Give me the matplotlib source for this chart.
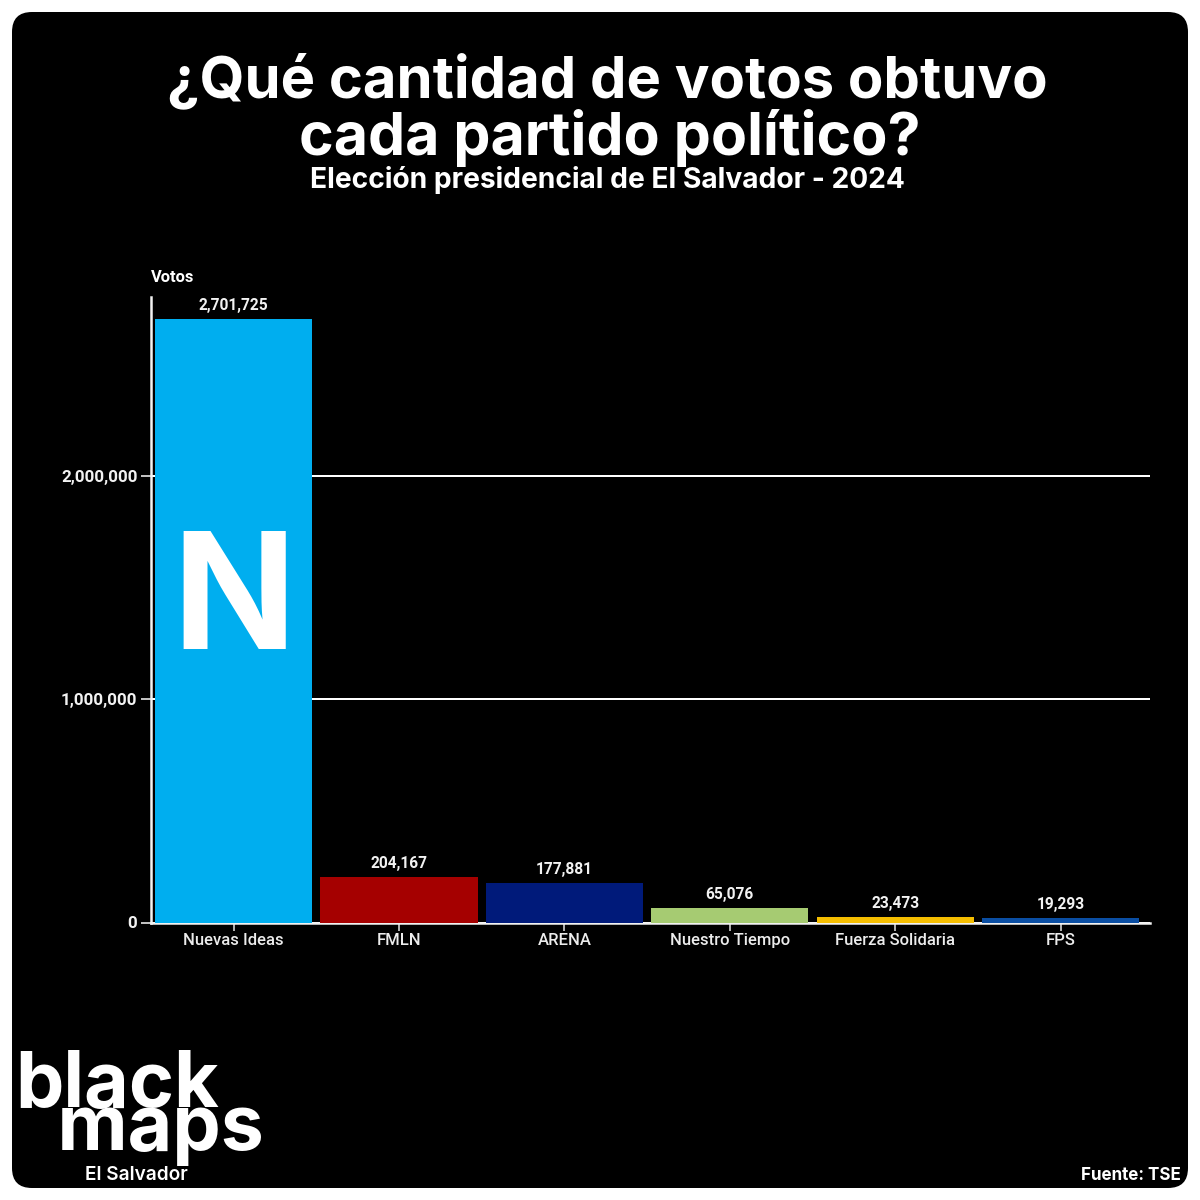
import matplotlib
matplotlib.use("Agg")
import matplotlib.pyplot as plt
from matplotlib.patches import FancyBboxPatch

parties = ["Nuevas Ideas", "FMLN", "ARENA", "Nuestro Tiempo", "Fuerza Solidaria", "FPS"]
votes = [2701725, 204167, 177881, 65076, 23473, 19293]
bar_colors = ["#00AEEF", "#A50000", "#001A7A", "#A6CB72", "#F5BE00", "#0A4EA3"]
y_ticks = [0, 1000000, 2000000]

W = 1200
def px(v): return v * 72 / 100

fig = plt.figure(figsize=(12, 12), dpi=100, facecolor="white")
bg = fig.add_axes([0, 0, 1, 1], zorder=0)
bg.set_xlim(0, W); bg.set_ylim(W, 0); bg.axis("off")
bg.add_patch(FancyBboxPatch((32, 32), 1136, 1136, boxstyle="round,pad=20,rounding_size=20",
                            fc="black", ec="none"))

left, right, top, bottom = 150.5, 1150, 297, 922.5
ax = fig.add_axes([left / W, 1 - bottom / W, (right - left) / W, (bottom - top) / W],
                  facecolor="none", zorder=1)
x = list(range(len(parties)))
ax.set_xlim(-0.5025, 5.541)
ax.set_ylim(0, (bottom - top) / 223.25 * 1e6)
ax.bar(x, votes, width=0.95, color=bar_colors, zorder=3)
ax.grid(axis="y", color="white", lw=px(2), zorder=1)
ax.set_axisbelow(True)
for s in ("top", "right"):
    ax.spines[s].set_visible(False)
for s in ("left", "bottom"):
    ax.spines[s].set_color("#f2f2f2")
    ax.spines[s].set_linewidth(px(2.5))
ax.spines["bottom"].set_zorder(2)
ax.set_xticks(x, parties)
ax.set_yticks(y_ticks, [f"{v:,}" for v in y_ticks])
ax.tick_params(axis="x", colors="#e8e8e8", length=px(8), width=px(1.5), pad=px(14.5))
ax.tick_params(axis="y", colors="white", length=px(10), width=px(1.5), pad=px(3))
for t in ax.get_xticklabels():
    t.set(family="Roboto", fontsize=px(16.6), fontweight="medium", color="#ececec", va="baseline")
for t in ax.get_yticklabels():
    t.set(family="Roboto", fontsize=px(17), fontweight="bold", color="#f2f2f2")
for xi, v in zip(x, votes):
    ax.annotate(f"{v:,}", (xi, v), xytext=(0, px(6)), textcoords="offset points",
                ha="center", va="bottom", family="Roboto", fontweight="bold",
                fontsize=px(15.5), color="#f2f2f2", zorder=4)
ax.text(0, votes[0] * 0.524, "N", ha="center", va="center", family="Inter", fontweight="bold",
        fontsize=px(162), color="white", zorder=5)

def t(xp, yp, s, size, weight="bold", family="Inter", ha="center", va="center", color="white", **kw):
    bg.text(xp, yp, s, ha=ha, va=va, family=family, fontweight=weight,
            fontsize=px(size), color=color, **kw)

t(607, 81, "¿Qué cantidad de votos obtuvo", 58, "bold")
t(610, 138, "cada partido político?", 59, "bold")
t(607, 180, "Elección presidencial de El Salvador - 2024", 28.2, "bold")
t(151, 277, "Votos", 16.5, family="Roboto", ha="left")
t(15, 1150, "black\n  \u200amaps", 77, "bold", ha="left", va="baseline", linespacing=0.47)
t(85, 1175, "El Salvador", 19, "semibold", ha="left")
t(1181, 1175, "Fuente: TSE", 17, "bold", ha="right")

fig.savefig("out.png", dpi=100, facecolor="white")
